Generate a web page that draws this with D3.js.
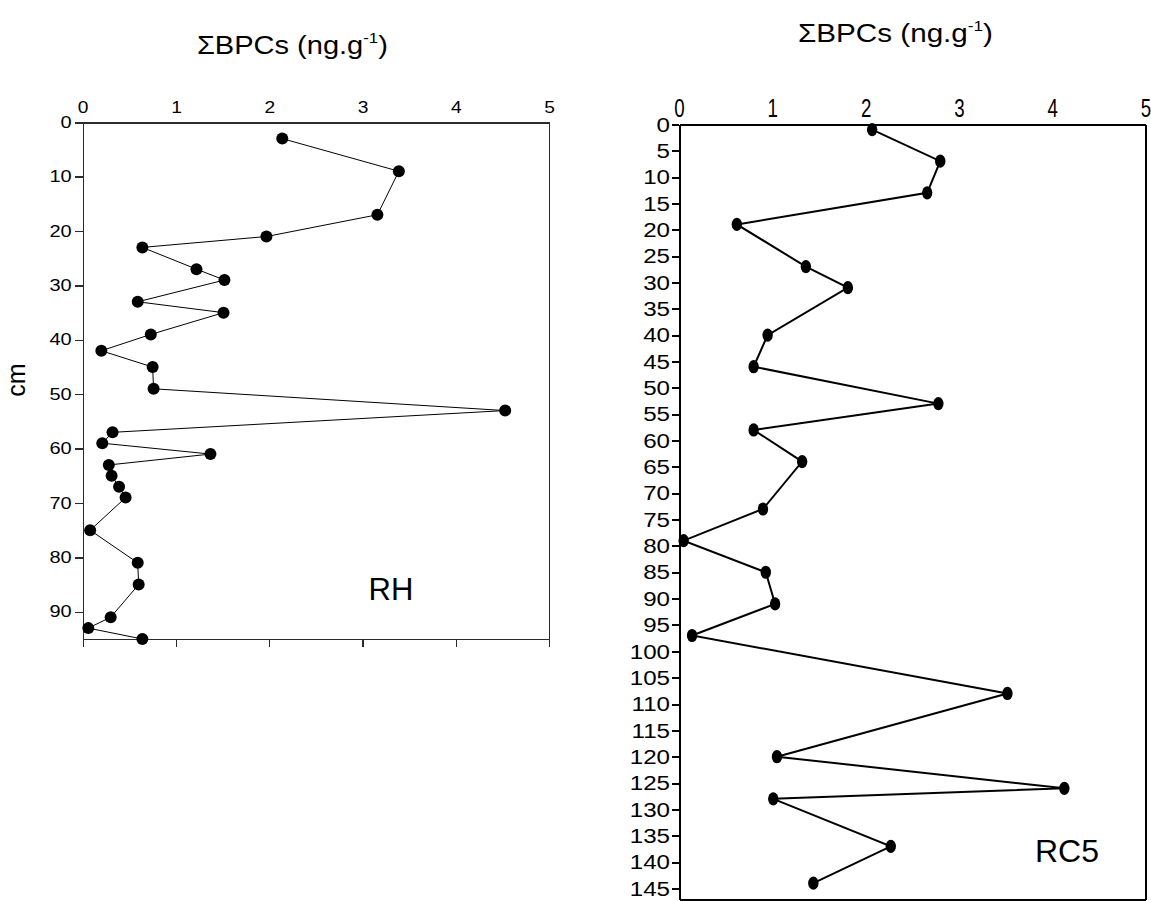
<!DOCTYPE html>
<html>
<head>
<meta charset="utf-8">
<script src="https://cdn.jsdelivr.net/npm/d3@7"></script>
<style>
    body { margin: 0; background: #fff; }
    svg { display: block; font-family: "Liberation Sans", Arial, sans-serif; }
    .axis path, .axis line { shape-rendering: crispEdges; }
</style>
</head>
<body>
<div id="chart"></div>
<script>
// RH core: depth (cm) and sum of BPCs (ng/g)
const rhDepth = [3, 9, 17, 21, 23, 27, 29, 33, 35, 39, 42, 45, 49, 53, 57, 59, 61, 63, 65, 67, 69, 75, 81, 85, 91, 93, 95];
const rhValue = [2.14, 3.39, 3.16, 1.97, 0.64, 1.22, 1.52, 0.59, 1.51, 0.73, 0.20, 0.75, 0.76, 4.53, 0.32, 0.21, 1.37, 0.28, 0.31, 0.39, 0.46, 0.08, 0.59, 0.60, 0.30, 0.06, 0.64];

// RC5 core
const rc5Depth = [1, 7, 13, 19, 27, 31, 40, 46, 53, 58, 64, 73, 79, 85, 91, 97, 108, 120, 126, 128, 137, 144];
const rc5Value = [2.07, 2.80, 2.66, 0.62, 1.36, 1.81, 0.95, 0.80, 2.78, 0.80, 1.32, 0.90, 0.05, 0.93, 1.03, 0.14, 3.52, 1.05, 4.13, 1.01, 2.27, 1.44];

const xTicks = [0, 1, 2, 3, 4, 5];
const rhDepthTicks = d3.range(0, 91, 10);
const rc5DepthTicks = d3.range(0, 146, 5);

const W = 1151, H = 901;
const fmt = d3.format("d");

const svg = d3.select("#chart").append("svg")
    .attr("width", W)
    .attr("height", H);

// squeeze/stretch axis labels horizontally, keeping their anchor
function stretchLabels(g, sx) {
    g.selectAll("text").each(function() {
        const t = d3.select(this);
        const x = +t.attr("x") || 0, y = +t.attr("y") || 0;
        t.attr("x", 0).attr("y", 0)
         .attr("transform", `translate(${x},${y}) scale(${sx},1)`);
    });
}

function addTitle(cx, baseline, size, targetW) {
    const t = svg.append("text")
        .attr("text-anchor", "middle")
        .attr("font-size", size)
        .attr("fill", "#000");
    t.append("tspan").text("ΣBPCs (ng.g");
    t.append("tspan").attr("font-size", size * 0.58).attr("dy", -size * 0.42).text("-1");
    t.append("tspan").attr("dy", size * 0.42).text(")");
    const w = t.node().getBBox().width;
    t.attr("transform", `translate(${cx},${baseline}) scale(${targetW / w},1)`);
}

function drawRH() {
    const x = d3.scaleLinear().domain([0, 5]).range([82.7, 549]);
    const y = d3.scaleLinear().domain([0, 95]).range([122.3, 639]);
    const col = "#2b2b2b";
    const g = svg.append("g").attr("id", "rh");

    const top = g.append("g").attr("class", "axis")
        .attr("transform", `translate(0,${y(0)})`)
        .call(d3.axisTop(x).tickValues(xTicks).tickFormat(fmt).tickSize(0).tickPadding(9).tickSizeOuter(0));
    const left = g.append("g").attr("class", "axis")
        .attr("transform", `translate(${x(0)},0)`)
        .call(d3.axisLeft(y).tickValues(rhDepthTicks).tickFormat(fmt).tickSize(7.7).tickPadding(3.3).tickSizeOuter(0));
    const bottom = g.append("g").attr("class", "axis")
        .attr("transform", `translate(0,${y(95)})`)
        .call(d3.axisBottom(x).tickValues(xTicks).tickSize(7.7).tickFormat("").tickSizeOuter(0));
    const right = g.append("g").attr("class", "axis")
        .attr("transform", `translate(${x(5)},0)`)
        .call(d3.axisRight(y).tickValues([]).tickSizeOuter(0));

    [top, left, bottom, right].forEach(a => {
        a.selectAll("path, line").attr("stroke", col).attr("stroke-width", 1.4);
        a.selectAll("text").attr("font-size", 16).attr("fill", "#000").attr("font-family", null);
    });
    stretchLabels(top, 1.2);
    stretchLabels(left, 1.25);

    const pts = rhDepth.map((d, i) => [rhValue[i], d]);
    g.append("path")
        .datum(pts)
        .attr("fill", "none")
        .attr("stroke", "#000")
        .attr("stroke-width", 1)
        .attr("d", d3.line().x(p => x(p[0])).y(p => y(p[1])));
    g.selectAll("circle.dot")
        .data(pts)
        .enter().append("circle")
        .attr("class", "dot")
        .attr("cx", p => x(p[0]))
        .attr("cy", p => y(p[1]))
        .attr("r", 6)
        .attr("fill", "#000");

    g.append("text")
        .attr("x", 391).attr("y", 600)
        .attr("text-anchor", "middle")
        .attr("font-size", 31)
        .text("RH");

    svg.append("text")
        .attr("transform", "translate(25,380) rotate(-90)")
        .attr("text-anchor", "middle")
        .attr("font-size", 25)
        .text("cm");

    addTitle(292.4, 54, 26, 191);
}

function drawRC5() {
    const x = d3.scaleLinear().domain([0, 5]).range([679, 1145.5]);
    const y = d3.scaleLinear().domain([0, 147]).range([124.3, 899]);
    const g = svg.append("g").attr("id", "rc5");

    const top = g.append("g").attr("class", "axis")
        .attr("transform", `translate(0,${y(0)})`)
        .call(d3.axisTop(x).tickValues(xTicks).tickFormat(fmt).tickSize(0).tickPadding(7.6).tickSizeOuter(0));
    const left = g.append("g").attr("class", "axis")
        .attr("transform", `translate(${x(0)},0)`)
        .call(d3.axisLeft(y).tickValues(rc5DepthTicks).tickFormat(fmt).tickSize(7.3).tickPadding(1.7).tickSizeOuter(0));
    const bottom = g.append("g").attr("class", "axis")
        .attr("transform", `translate(0,${y(147)})`)
        .call(d3.axisBottom(x).tickValues([]).tickSizeOuter(0));
    const right = g.append("g").attr("class", "axis")
        .attr("transform", `translate(${x(5)},0)`)
        .call(d3.axisRight(y).tickValues([]).tickSizeOuter(0));

    [top, left, bottom, right].forEach(a => {
        a.selectAll("path, line").attr("stroke", "#000").attr("stroke-width", 2);
        a.selectAll("text").attr("fill", "#000").attr("font-family", null);
    });
    top.selectAll("text").attr("font-size", 26);
    left.selectAll("text").attr("font-size", 21);
    stretchLabels(top, 0.72);
    stretchLabels(left, 1.15);

    const pts = rc5Depth.map((d, i) => [rc5Value[i], d]);
    g.append("path")
        .datum(pts)
        .attr("fill", "none")
        .attr("stroke", "#000")
        .attr("stroke-width", 2)
        .attr("d", d3.line().x(p => x(p[0])).y(p => y(p[1])));
    g.selectAll("ellipse.dot")
        .data(pts)
        .enter().append("ellipse")
        .attr("class", "dot")
        .attr("cx", p => x(p[0]))
        .attr("cy", p => y(p[1]))
        .attr("rx", 5.2)
        .attr("ry", 6.6)
        .attr("fill", "#000");

    g.append("text")
        .attr("x", 1035).attr("y", 862)
        .attr("font-size", 32)
        .text("RC5");

    addTitle(895.5, 41.7, 25, 195);
}

drawRH();
drawRC5();
</script>
</body>
</html>
